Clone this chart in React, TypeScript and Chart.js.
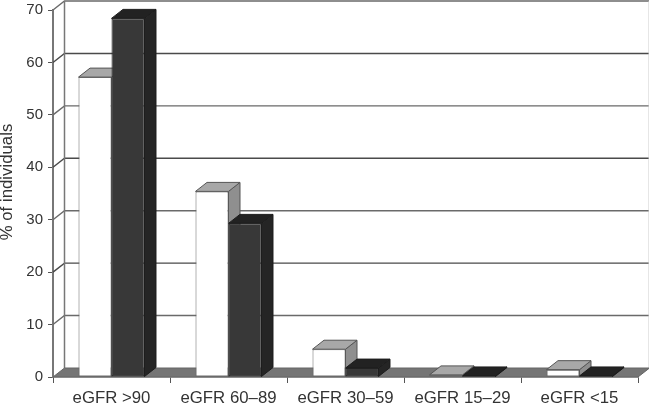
import React, { useEffect, useRef } from "react";
import { Chart, registerables } from "chart.js";

Chart.register(...registerables);

const categories = ["eGFR >90", "eGFR 60–89", "eGFR 30–59", "eGFR 15–29", "eGFR <15"];
const whiteSeries = [57.2, 35.4, 5.3, 0.4, 1.4];
const darkSeries = [68.4, 29.3, 1.7, 0.2, 0.2];
const yTitle = "% of individuals";
const FONT = "'Liberation Sans', Arial, sans-serif";
const DX = 11.5;
const DY = 9;

const look = [
  { side: "#8f8f8f", top: "#a8a8a8", edge: "#555" },
  { side: "#252525", top: "#222", edge: "#1c1c1c" },
];

const poly = (ctx: CanvasRenderingContext2D, pts: number[][], fill: string | null, stroke: string | null, lw = 1) => {
  ctx.beginPath();
  pts.forEach((p, i) => (i ? ctx.lineTo(p[0], p[1]) : ctx.moveTo(p[0], p[1])));
  ctx.closePath();
  if (fill) { ctx.fillStyle = fill; ctx.fill(); }
  if (stroke) { ctx.strokeStyle = stroke; ctx.lineWidth = lw; ctx.stroke(); }
};

const depthPlugin = {
  id: "depth",
  beforeDatasetsDraw(chart: any) {
    const { ctx, scales, chartArea } = chart;
    const y = scales.y;
    const { left, right, bottom } = chartArea;
    ctx.save();
    // side wall lines and back wall grid
    y.ticks.forEach((t: any) => {
      const py = y.getPixelForValue(t.value);
      if (t.value === 0) return;
      ctx.strokeStyle = t.value % 20 === 0 ? "#4a4a4a" : "#6a6a6a";
      ctx.lineWidth = 1.4;
      ctx.beginPath();
      ctx.moveTo(left, py);
      ctx.lineTo(left + DX, py - DY);
      ctx.lineTo(right + DX, py - DY);
      ctx.stroke();
    });
    ctx.strokeStyle = "#777";
    ctx.lineWidth = 1.5;
    ctx.beginPath();
    ctx.moveTo(left + DX, bottom - DY);
    ctx.lineTo(left + DX, y.getPixelForValue(70) - DY);
    ctx.stroke();
    ctx.strokeStyle = "#ccc";
    ctx.lineWidth = 1;
    ctx.beginPath();
    ctx.moveTo(right + DX - 0.5, bottom - DY);
    ctx.lineTo(right + DX - 0.5, y.getPixelForValue(70) - DY);
    ctx.stroke();
    // floor
    poly(ctx, [[left, bottom], [left + DX, bottom - DY], [right + DX, bottom - DY], [right, bottom]], "#757575", "#666");
    // bar depth: sides and tops
    chart.data.datasets.forEach((_: any, di: number) => {
      chart.getDatasetMeta(di).data.forEach((bar: any) => {
        const p = bar.getProps(["x", "y", "base", "width"], true);
        const l = p.x - p.width / 2;
        const r = p.x + p.width / 2;
        poly(ctx, [[r, p.y], [r + DX, p.y - DY], [r + DX, p.base - DY], [r, p.base]], look[di].side, look[di].edge);
        poly(ctx, [[l, p.y], [l + DX, p.y - DY], [r + DX, p.y - DY], [r, p.y]], look[di].top, look[di].edge);
      });
    });
    ctx.restore();
  },
  afterDraw(chart: any) {
    const { ctx } = chart;
    ctx.save();
    ctx.translate(7, 182);
    ctx.rotate(-Math.PI / 2);
    ctx.font = `16.8px ${FONT}`;
    ctx.fillStyle = "#333";
    ctx.textAlign = "center";
    ctx.textBaseline = "middle";
    ctx.fillText(yTitle, 0, 0);
    ctx.restore();
  },
};

export default function App() {
  const ref = useRef<HTMLCanvasElement>(null);
  useEffect(() => {
    document.body.style.margin = "0";
    const chart = new Chart(ref.current!, {
      type: "bar",
      data: {
        labels: categories,
        datasets: [
          { label: "White", data: whiteSeries, backgroundColor: "#ffffff", borderColor: "#666", borderWidth: 1, borderSkipped: false },
          { label: "Dark", data: darkSeries, backgroundColor: "#383838", borderColor: "#222", borderWidth: 1, borderSkipped: false },
        ],
      },
      options: {
        responsive: false,
        animation: false,
        layout: { padding: { top: 10, right: 11, left: 0, bottom: 0 } },
        plugins: { legend: { display: false }, tooltip: { enabled: false } },
        datasets: { bar: { categoryPercentage: 0.564, barPercentage: 1 } },
        scales: {
          x: {
            afterFit: (s: any) => { s.height = 26; s.paddingLeft = 0; s.paddingRight = 0; s.paddingTop = 0; s.paddingBottom = 0; },
            border: { color: "#666", width: 1.5 },
            grid: { drawOnChartArea: false, color: "#555", tickLength: 6 },
            ticks: { color: "#333", font: { family: FONT, size: 16.8 }, padding: 5, maxRotation: 0, autoSkip: false },
          },
          y: {
            min: 0,
            max: 70,
            afterFit: (s: any) => { s.width = 53; s.paddingLeft = 0; s.paddingRight = 0; s.paddingTop = 0; s.paddingBottom = 0; },
            border: { color: "#777", width: 2 },
            grid: { drawOnChartArea: false, color: "#555", tickLength: 5 },
            ticks: { stepSize: 10, color: "#333", font: { family: FONT, size: 15 }, padding: 5 },
          },
        },
      },
      plugins: [depthPlugin],
    } as any);
    return () => chart.destroy();
  }, []);
  return <canvas ref={ref} width={649} height={403} style={{ display: "block" }} />;
}
